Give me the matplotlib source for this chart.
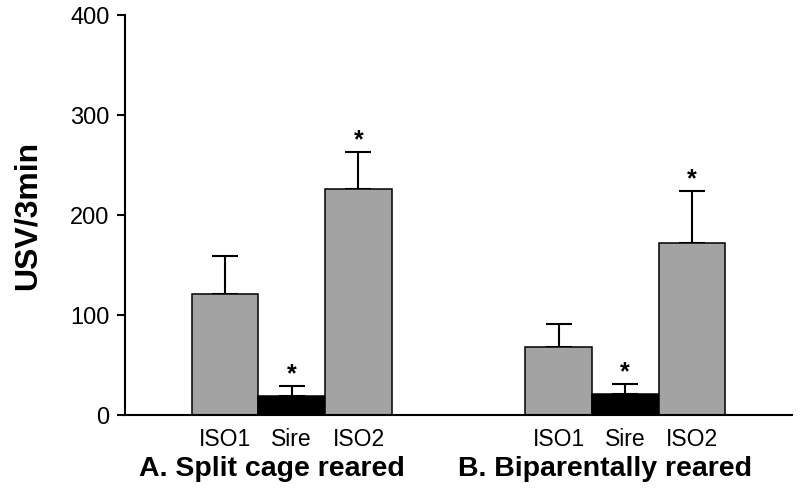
import numpy as np
import matplotlib.pyplot as plt

plt.rcParams['font.family'] = ['Liberation Sans', 'DejaVu Sans']

# --- Data ---
categories = ['ISO1', 'Sire', 'ISO2']
groups = ['A. Split cage reared', 'B. Biparentally reared']
means_a = [121, 19, 226]
errs_a = [38, 10, 37]
means_b = [68, 21, 172]
errs_b = [23, 10, 52]
signif_a = [False, True, True]
signif_b = [False, True, True]
bar_colors = ['#a3a3a3', '#000000', '#a3a3a3']

fig = plt.figure(figsize=(8, 4.99), dpi=100)
ax = fig.add_axes([125 / 800, 1 - 415 / 499, (792 - 125) / 800, 400 / 499])

group_starts = [1, 6]
for start, means, errs, sig in zip(group_starts,
                                   [means_a, means_b],
                                   [errs_a, errs_b],
                                   [signif_a, signif_b]):
    x = start + np.arange(len(categories))
    ax.bar(x, means, width=1.0, color=bar_colors, edgecolor='black',
           linewidth=1.1, zorder=2)
    ax.errorbar(x, means, yerr=[np.zeros(len(errs)), errs], fmt='none',
                ecolor='black', elinewidth=1.5, capsize=9.5, capthick=1.5,
                zorder=1)
    for xi, m, e, s in zip(x, means, errs, sig):
        if s:
            ax.annotate('*', (xi, m + e), xytext=(0, 0), textcoords='offset points',
                        ha='center', va='bottom', fontsize=18, fontweight='bold')

# --- Axes styling ---
ax.set_xlim(-0.5, 9.5)
ax.set_ylim(0, 400)
ax.set_yticks([0, 100, 200, 300, 400])
ax.tick_params(axis='y', labelsize=17, length=6, width=1.5, pad=5)

xt = np.concatenate([s + np.arange(len(categories)) for s in group_starts])
ax.set_xticks(xt)
ax.set_xticklabels(categories * len(group_starts))
ax.tick_params(axis='x', labelsize=16.5, length=0, pad=9)

for side in ['top', 'right']:
    ax.spines[side].set_visible(False)
for side in ['left', 'bottom']:
    ax.spines[side].set_linewidth(1.5)

ax.set_ylabel('USV/3min', fontsize=23, fontweight='bold', labelpad=20)

for start, name in zip(group_starts, groups):
    ax.text(start + 0.7, -0.135, name, transform=ax.get_xaxis_transform(),
            ha='center', va='center', fontsize=20.5, fontweight='bold')

plt.savefig('out.png', dpi=100)
